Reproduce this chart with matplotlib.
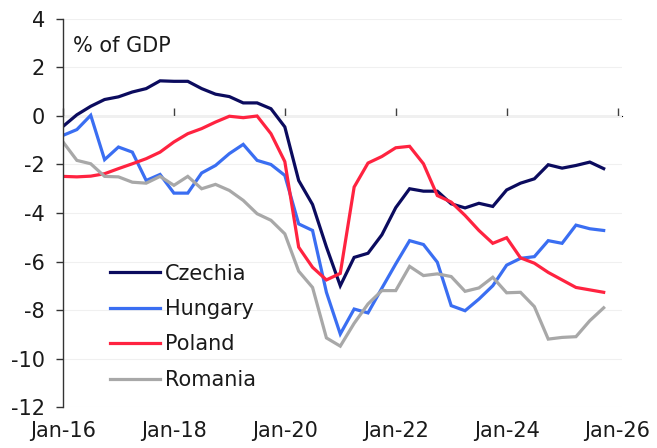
import matplotlib
matplotlib.use("Agg")
import matplotlib.pyplot as plt
import numpy as np

# Quarterly data, Jan-16 .. Oct-25
start_year = 2016
czechia = [-0.43, 0.05, 0.4, 0.68, 0.79, 0.99, 1.13, 1.45, 1.43, 1.43,
           1.13, 0.9, 0.8, 0.54, 0.54, 0.3, -0.45, -2.66, -3.65, -5.4,
           -7.0, -5.83, -5.66, -4.9, -3.78, -3.0, -3.1, -3.1, -3.62, -3.79,
           -3.6, -3.73, -3.05, -2.77, -2.59, -2.01, -2.15, -2.04, -1.9, -2.17]
hungary = [-0.8, -0.56, 0.03, -1.8, -1.28, -1.49, -2.66, -2.41, -3.18, -3.18,
           -2.35, -2.04, -1.55, -1.17, -1.83, -2.0, -2.45, -4.45, -4.72, -7.27,
           -8.99, -7.96, -8.12, -7.1, -6.1, -5.14, -5.3, -6.03, -7.82, -8.03,
           -7.55, -7.0, -6.15, -5.87, -5.8, -5.14, -5.25, -4.5, -4.65, -4.72]
poland = [-2.49, -2.51, -2.48, -2.38, -2.17, -1.97, -1.76, -1.49, -1.07, -0.73,
          -0.52, -0.25, -0.01, -0.07, 0.0, -0.73, -1.88, -5.41, -6.24, -6.76,
          -6.49, -2.93, -1.94, -1.67, -1.31, -1.25, -1.97, -3.28, -3.55, -4.1,
          -4.72, -5.25, -5.02, -5.85, -6.07, -6.45, -6.76, -7.07, -7.17, -7.27]
romania = [-1.07, -1.83, -1.97, -2.49, -2.51, -2.73, -2.77, -2.49, -2.86, -2.49,
           -3.0, -2.82, -3.07, -3.48, -4.03, -4.3, -4.86, -6.4, -7.07, -9.15,
           -9.49, -8.55, -7.75, -7.2, -7.2, -6.2, -6.58, -6.51, -6.62, -7.23,
           -7.09, -6.65, -7.29, -7.27, -7.86, -9.2, -9.13, -9.1, -8.44, -7.91]
tick_years = [2016, 2018, 2020, 2022, 2024, 2026]
tick_labels = ["Jan-16", "Jan-18", "Jan-20", "Jan-22", "Jan-24", "Jan-26"]
y_ticks = [4, 2, 0, -2, -4, -6, -8, -10, -12]

plt.rcParams['font.family'] = ['DejaVu Sans']
plt.rcParams['axes.unicode_minus'] = False

x = start_year + np.arange(len(czechia)) / 4.0

fig = plt.figure(figsize=(6.57, 4.48), dpi=100)
ax = fig.add_axes([0.0959, 0.0915, 0.9467 - 0.0959, 0.9576 - 0.0915])

series = [("Czechia", czechia, "#0b0b5e"),
          ("Hungary", hungary, "#3a6ef2"),
          ("Poland", poland, "#ff2340"),
          ("Romania", romania, "#a8a8a8")]
for name, vals, col in series:
    ax.plot(x, vals, color=col, lw=2.3, label=name, solid_joinstyle='miter')

ax.set_xlim(2016, 2026.08)
ax.set_ylim(-12, 4)
ax.set_yticks(y_ticks)
ax.set_yticklabels([str(v) for v in y_ticks])
ax.grid(axis='y', color='#f0f0f0', lw=0.8)
ax.set_axisbelow(True)

for s in ['top', 'right', 'bottom']:
    ax.spines[s].set_visible(False)
ax.spines['left'].set_color('#333333')
ax.spines['left'].set_linewidth(1.0)
ax.tick_params(axis='y', length=5, width=1, color='#333333', pad=8,
               labelsize=15, labelcolor='#1a1a1a')

ax.set_xticks(tick_years)
ax.set_xticklabels(tick_labels)
ax.tick_params(axis='x', length=0, pad=10, labelsize=15, labelcolor='#1a1a1a')

# zero axis with tick marks
sec = ax.secondary_xaxis(12 / 16)
sec.set_xticks(tick_years)
sec.set_xticklabels([])
sec.spines['bottom'].set_color('#808080')
sec.spines['bottom'].set_linewidth(1.6)
sec.tick_params(axis='x', direction='out', length=6, width=1, color='#404040')

ax.text(0.018, 0.955, "% of GDP", transform=ax.transAxes, fontsize=15,
        color='#1a1a1a', va='top', ha='left')

leg = ax.legend(loc='upper left', bbox_to_anchor=(0.069, 0.391), frameon=False,
                fontsize=15, handlelength=2.4, handletextpad=0.25,
                labelspacing=0.74, borderaxespad=0)
for t in leg.get_texts():
    t.set_color('#1a1a1a')

fig.savefig("out.png", dpi=100)
